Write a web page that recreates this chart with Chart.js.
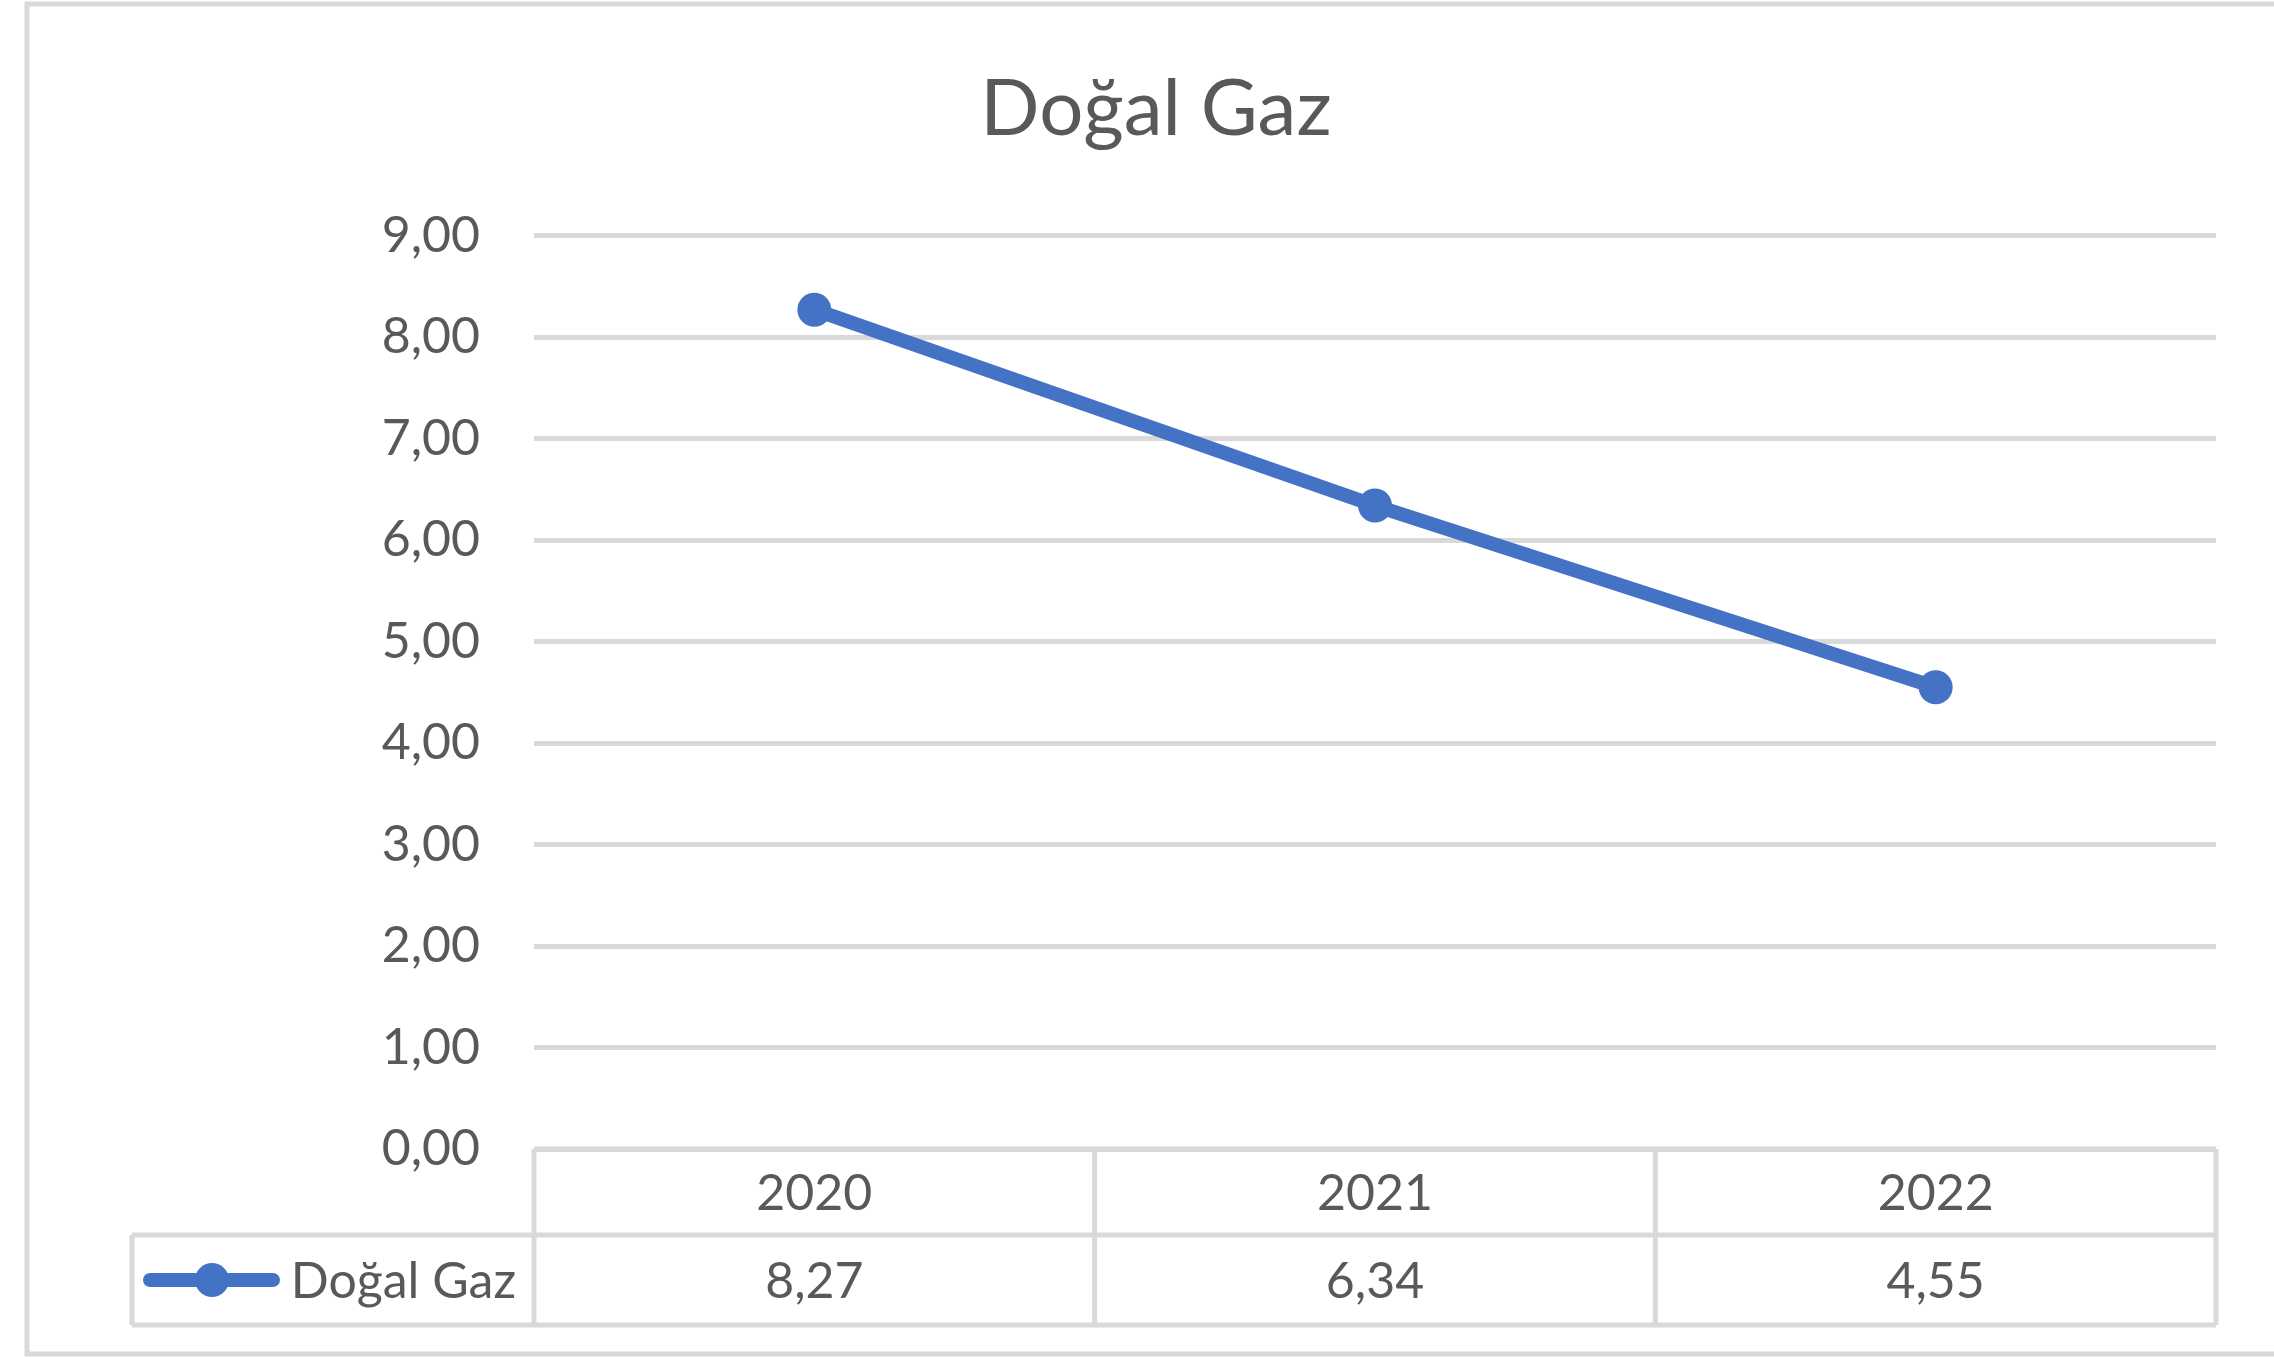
<!DOCTYPE html>
<html>
<head>
<meta charset="utf-8">
<title>Doğal Gaz</title>
<script src="https://cdn.jsdelivr.net/npm/chart.js@4"></script>
<style>
  html, body { margin: 0; padding: 0; background: #fff; overflow: hidden; }
  #wrap { position: relative; width: 2274px; height: 1357px; }
</style>
</head>
<body>
<div id="wrap"><canvas id="gazChart"></canvas></div>
<script>
const chartTitle = "Doğal Gaz";
const seriesName = "Doğal Gaz";
const years = ["2020", "2021", "2022"];
const gazValues = [8.27, 6.34, 4.55];
const yMin = 0;
const yMax = 9;
const yStep = 1;

const blue = "#4472C4";
const grey = "#d9d9d9";
const textGrey = "#595959";

Chart.defaults.font.family = "Lato, 'Open Sans', sans-serif";
Chart.defaults.color = textGrey;

function formatTr(v) {
  return Number(v).toFixed(2).replace(".", ",");
}

// white background + the Excel-like chart frame
const framePlugin = {
  id: "frame",
  beforeDraw(chart) {
    const ctx = chart.ctx;
    ctx.save();
    ctx.fillStyle = "#fff";
    ctx.fillRect(0, 0, chart.width, chart.height);
    ctx.strokeStyle = grey;
    ctx.lineWidth = 5;
    ctx.strokeRect(27, 4, chart.width + 40, chart.height - 7);
    ctx.restore();
  },
};

// data table under the plot area, columns follow the x scale
const dataTablePlugin = {
  id: "dataTable",
  afterDraw(chart) {
    const ctx = chart.ctx;
    const x = chart.scales.x;
    const area = chart.chartArea;
    const n = years.length;
    const colW = (area.right - area.left) / n;
    const top = area.bottom;
    const headerH = 86;
    const rowH = 90;
    const mid = top + headerH;
    const bottom = mid + rowH;
    const legendLeft = 132;

    ctx.save();
    ctx.strokeStyle = grey;
    ctx.lineWidth = 5;
    ctx.beginPath();
    // header row top
    ctx.moveTo(area.left, top);
    ctx.lineTo(area.right, top);
    // row separator + bottom
    ctx.moveTo(legendLeft, mid);
    ctx.lineTo(area.right, mid);
    ctx.moveTo(legendLeft, bottom);
    ctx.lineTo(area.right, bottom);
    // verticals
    for (let i = 0; i <= n; i++) {
      const bx = area.left + i * colW;
      ctx.moveTo(bx, top);
      ctx.lineTo(bx, bottom);
    }
    ctx.moveTo(legendLeft, mid);
    ctx.lineTo(legendLeft, bottom);
    ctx.stroke();

    ctx.fillStyle = textGrey;
    ctx.font = "50px Lato, 'Open Sans', sans-serif";
    ctx.textBaseline = "middle";
    ctx.textAlign = "center";
    years.forEach((yr, i) => {
      const cx = x.getPixelForValue(i);
      ctx.fillText(yr, cx, top + headerH / 2 + 2);
      ctx.fillText(formatTr(gazValues[i]), cx, mid + rowH / 2 + 2);
    });

    // legend key
    const ky = mid + rowH / 2;
    ctx.strokeStyle = blue;
    ctx.lineWidth = 14;
    ctx.lineCap = "round";
    ctx.beginPath();
    ctx.moveTo(150, ky);
    ctx.lineTo(273, ky);
    ctx.stroke();
    ctx.fillStyle = blue;
    ctx.beginPath();
    ctx.arc(212, ky, 17, 0, Math.PI * 2);
    ctx.fill();

    ctx.fillStyle = textGrey;
    ctx.textAlign = "right";
    ctx.fillText(seriesName, area.left - 18, ky + 2);
    ctx.restore();
  },
};

const ctx = document.getElementById("gazChart").getContext("2d");
new Chart(ctx, {
  type: "line",
  data: {
    labels: years,
    datasets: [
      {
        label: seriesName,
        data: gazValues,
        borderColor: blue,
        backgroundColor: blue,
        borderWidth: 14,
        tension: 0,
        pointRadius: 17,
        pointHoverRadius: 17,
        pointBorderWidth: 0,
        pointBackgroundColor: blue,
      },
    ],
  },
  options: {
    responsive: true,
    maintainAspectRatio: false,
    animation: false,
    events: [],
    layout: {
      padding: { left: 96, right: 58, top: 0, bottom: 208 },
    },
    plugins: {
      legend: { display: false },
      tooltip: { enabled: false },
      title: {
        display: true,
        text: chartTitle,
        color: textGrey,
        font: { size: 78, weight: "normal" },
        padding: { top: 63, bottom: 79 },
      },
    },
    scales: {
      x: {
        type: "category",
        offset: true,
        display: false,
      },
      y: {
        min: yMin,
        max: yMax,
        border: { display: false },
        grid: {
          color: grey,
          lineWidth: 5,
          drawTicks: false,
        },
        ticks: {
          stepSize: yStep,
          padding: 54,
          color: textGrey,
          font: { size: 50 },
          callback: (v) => formatTr(v),
        },
        afterFit(scale) {
          scale.width = 438;
        },
      },
    },
  },
  plugins: [framePlugin, dataTablePlugin],
});
</script>
</body>
</html>
